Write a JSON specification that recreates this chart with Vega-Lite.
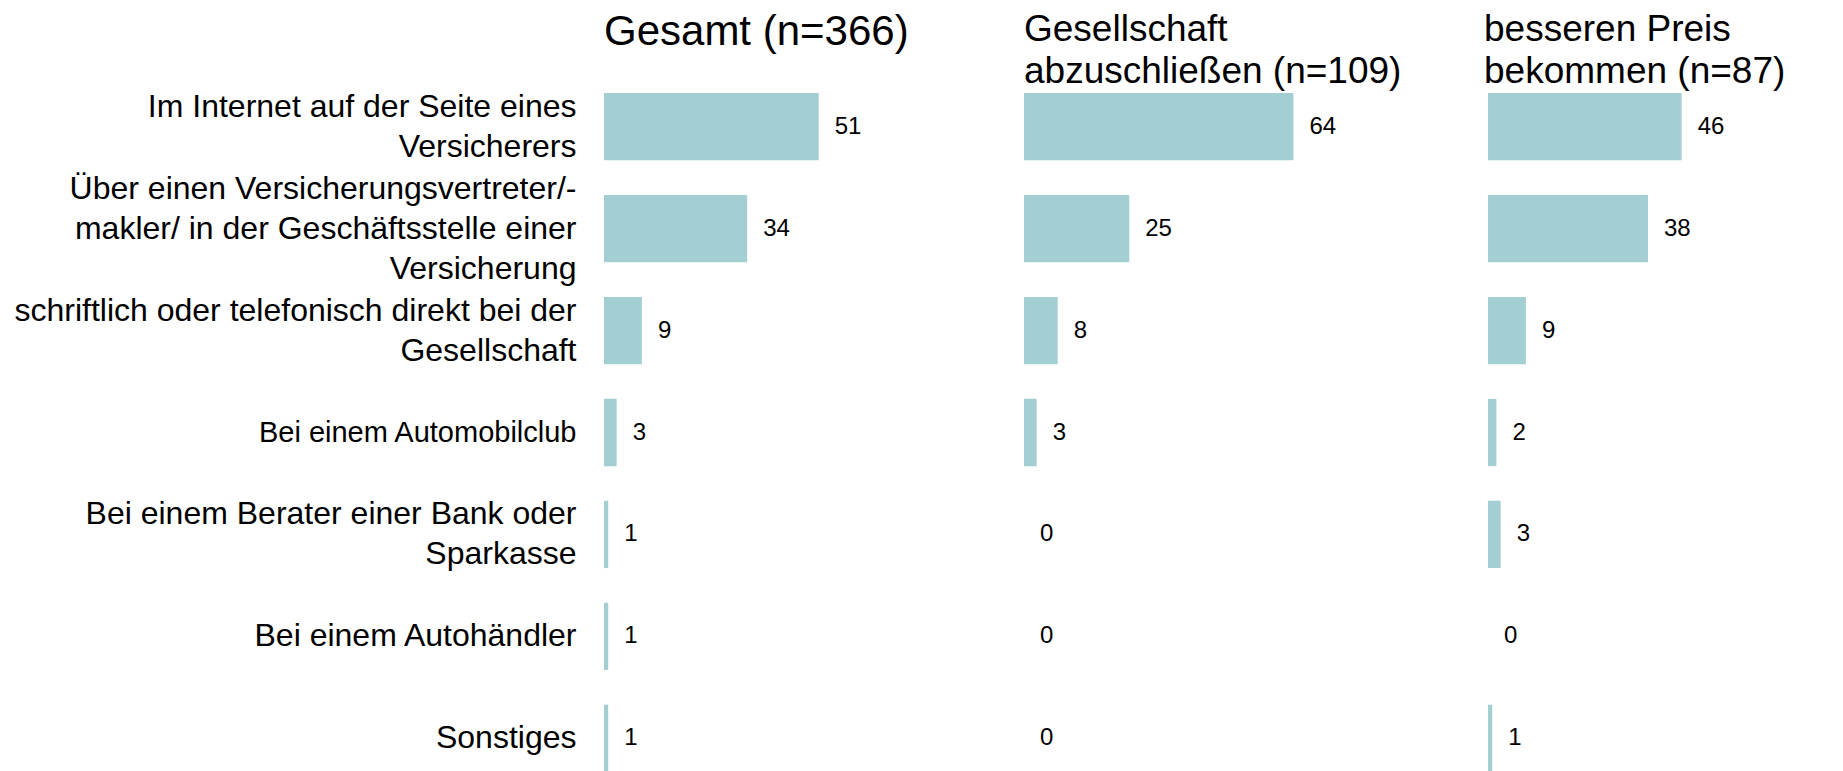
{
  "$schema": "https://vega.github.io/schema/vega-lite/v6.json",
  "padding": {"top": 11, "left": 13, "right": 0, "bottom": 0},
  "spacing": 20,
  "background": "white",
  "config": {
    "view": {"stroke": null},
    "font": "Liberation Sans",
    "title": {"font": "Liberation Sans", "fontWeight": "normal", "color": "#000000", "anchor": "start", "baseline": "bottom", "frame": "group"}
  },
  "data": {
    "values": [
      {"panel": "A", "cat": "Im Internet auf der Seite eines|Versicherers", "value": 51},
      {"panel": "A", "cat": "Über einen Versicherungsvertreter/-|makler/ in der Geschäftsstelle einer|Versicherung", "value": 34},
      {"panel": "A", "cat": "schriftlich oder telefonisch direkt bei der|Gesellschaft", "value": 9},
      {"panel": "A", "cat": "Bei einem Automobilclub", "value": 3},
      {"panel": "A", "cat": "Bei einem Berater einer Bank oder|Sparkasse", "value": 1},
      {"panel": "A", "cat": "Bei einem Autohändler", "value": 1},
      {"panel": "A", "cat": "Sonstiges", "value": 1},
      {"panel": "B", "cat": "Im Internet auf der Seite eines|Versicherers", "value": 64},
      {"panel": "B", "cat": "Über einen Versicherungsvertreter/-|makler/ in der Geschäftsstelle einer|Versicherung", "value": 25},
      {"panel": "B", "cat": "schriftlich oder telefonisch direkt bei der|Gesellschaft", "value": 8},
      {"panel": "B", "cat": "Bei einem Automobilclub", "value": 3},
      {"panel": "B", "cat": "Bei einem Berater einer Bank oder|Sparkasse", "value": 0},
      {"panel": "B", "cat": "Bei einem Autohändler", "value": 0},
      {"panel": "B", "cat": "Sonstiges", "value": 0},
      {"panel": "C", "cat": "Im Internet auf der Seite eines|Versicherers", "value": 46},
      {"panel": "C", "cat": "Über einen Versicherungsvertreter/-|makler/ in der Geschäftsstelle einer|Versicherung", "value": 38},
      {"panel": "C", "cat": "schriftlich oder telefonisch direkt bei der|Gesellschaft", "value": 9},
      {"panel": "C", "cat": "Bei einem Automobilclub", "value": 2},
      {"panel": "C", "cat": "Bei einem Berater einer Bank oder|Sparkasse", "value": 3},
      {"panel": "C", "cat": "Bei einem Autohändler", "value": 0},
      {"panel": "C", "cat": "Sonstiges", "value": 1}
    ]
  },
  "hconcat": [
    {
      "width": 400,
      "height": 679,
      "title": {"text": "Gesamt (n=366)", "fontSize": 42, "offset": 36},
      "transform": [{"filter": "datum.panel == 'A'"}],
      "encoding": {
        "y": {
          "field": "cat", "type": "nominal", "sort": null,
          "scale": {"paddingInner": 0.34, "paddingOuter": 0},
          "axis": {
            "title": null, "domain": false, "ticks": false, "grid": false,
            "labelExpr": "split(datum.label, '|')",
            "labelFont": "Liberation Sans",
            "labelFontSize": {"condition": {"test": "datum.label == 'Bei einem Automobilclub'", "value": 29}, "value": 32},
            "labelOffset": {"condition": [
              {"test": "length(split(datum.label, '|')) == 3", "value": -40},
              {"test": "length(split(datum.label, '|')) == 2", "value": -20}
            ], "value": 0},
            "labelLineHeight": 40,
            "labelPadding": 28,
            "labelLimit": 1000,
            "labelColor": "#000000"
          }
        }
      },
      "layer": [
        {
          "mark": {"type": "bar", "color": "#a3ced2"},
          "encoding": {"x": {"field": "value", "type": "quantitative", "scale": {"domain": [0, 95.0], "nice": false, "zero": true}, "axis": null}}
        },
        {
          "mark": {"type": "text", "align": "left", "baseline": "middle", "dx": 16, "fontSize": 24, "color": "#000000"},
          "encoding": {
            "x": {"field": "value", "type": "quantitative", "scale": {"domain": [0, 95.0], "nice": false, "zero": true}, "axis": null},
            "text": {"field": "value", "type": "quantitative"}
          }
        }
      ]
    },
    {
      "width": 440,
      "height": 679,
      "title": {"text": ["Gesellschaft", "abzuschließen (n=109)"], "fontSize": 37, "lineHeight": 42, "offset": 2},
      "transform": [{"filter": "datum.panel == 'B'"}],
      "encoding": {
        "y": {"field": "cat", "type": "nominal", "sort": null, "scale": {"paddingInner": 0.34, "paddingOuter": 0}, "axis": null}
      },
      "layer": [
        {
          "mark": {"type": "bar", "color": "#a3ced2"},
          "encoding": {"x": {"field": "value", "type": "quantitative", "scale": {"domain": [0, 104.5], "nice": false, "zero": true}, "axis": null}}
        },
        {
          "mark": {"type": "text", "align": "left", "baseline": "middle", "dx": 16, "fontSize": 24, "color": "#000000"},
          "encoding": {
            "x": {"field": "value", "type": "quantitative", "scale": {"domain": [0, 104.5], "nice": false, "zero": true}, "axis": null},
            "text": {"field": "value", "type": "quantitative"}
          }
        }
      ]
    },
    {
      "width": 354,
      "height": 679,
      "title": {"text": ["besseren Preis", "bekommen (n=87)"], "fontSize": 37, "lineHeight": 42, "offset": 2, "dx": -4},
      "transform": [{"filter": "datum.panel == 'C'"}],
      "encoding": {
        "y": {"field": "cat", "type": "nominal", "sort": null, "scale": {"paddingInner": 0.34, "paddingOuter": 0}, "axis": null}
      },
      "layer": [
        {
          "mark": {"type": "bar", "color": "#a3ced2"},
          "encoding": {"x": {"field": "value", "type": "quantitative", "scale": {"domain": [0, 84.1], "nice": false, "zero": true}, "axis": null}}
        },
        {
          "mark": {"type": "text", "align": "left", "baseline": "middle", "dx": 16, "fontSize": 24, "color": "#000000"},
          "encoding": {
            "x": {"field": "value", "type": "quantitative", "scale": {"domain": [0, 84.1], "nice": false, "zero": true}, "axis": null},
            "text": {"field": "value", "type": "quantitative"}
          }
        }
      ]
    }
  ]
}
